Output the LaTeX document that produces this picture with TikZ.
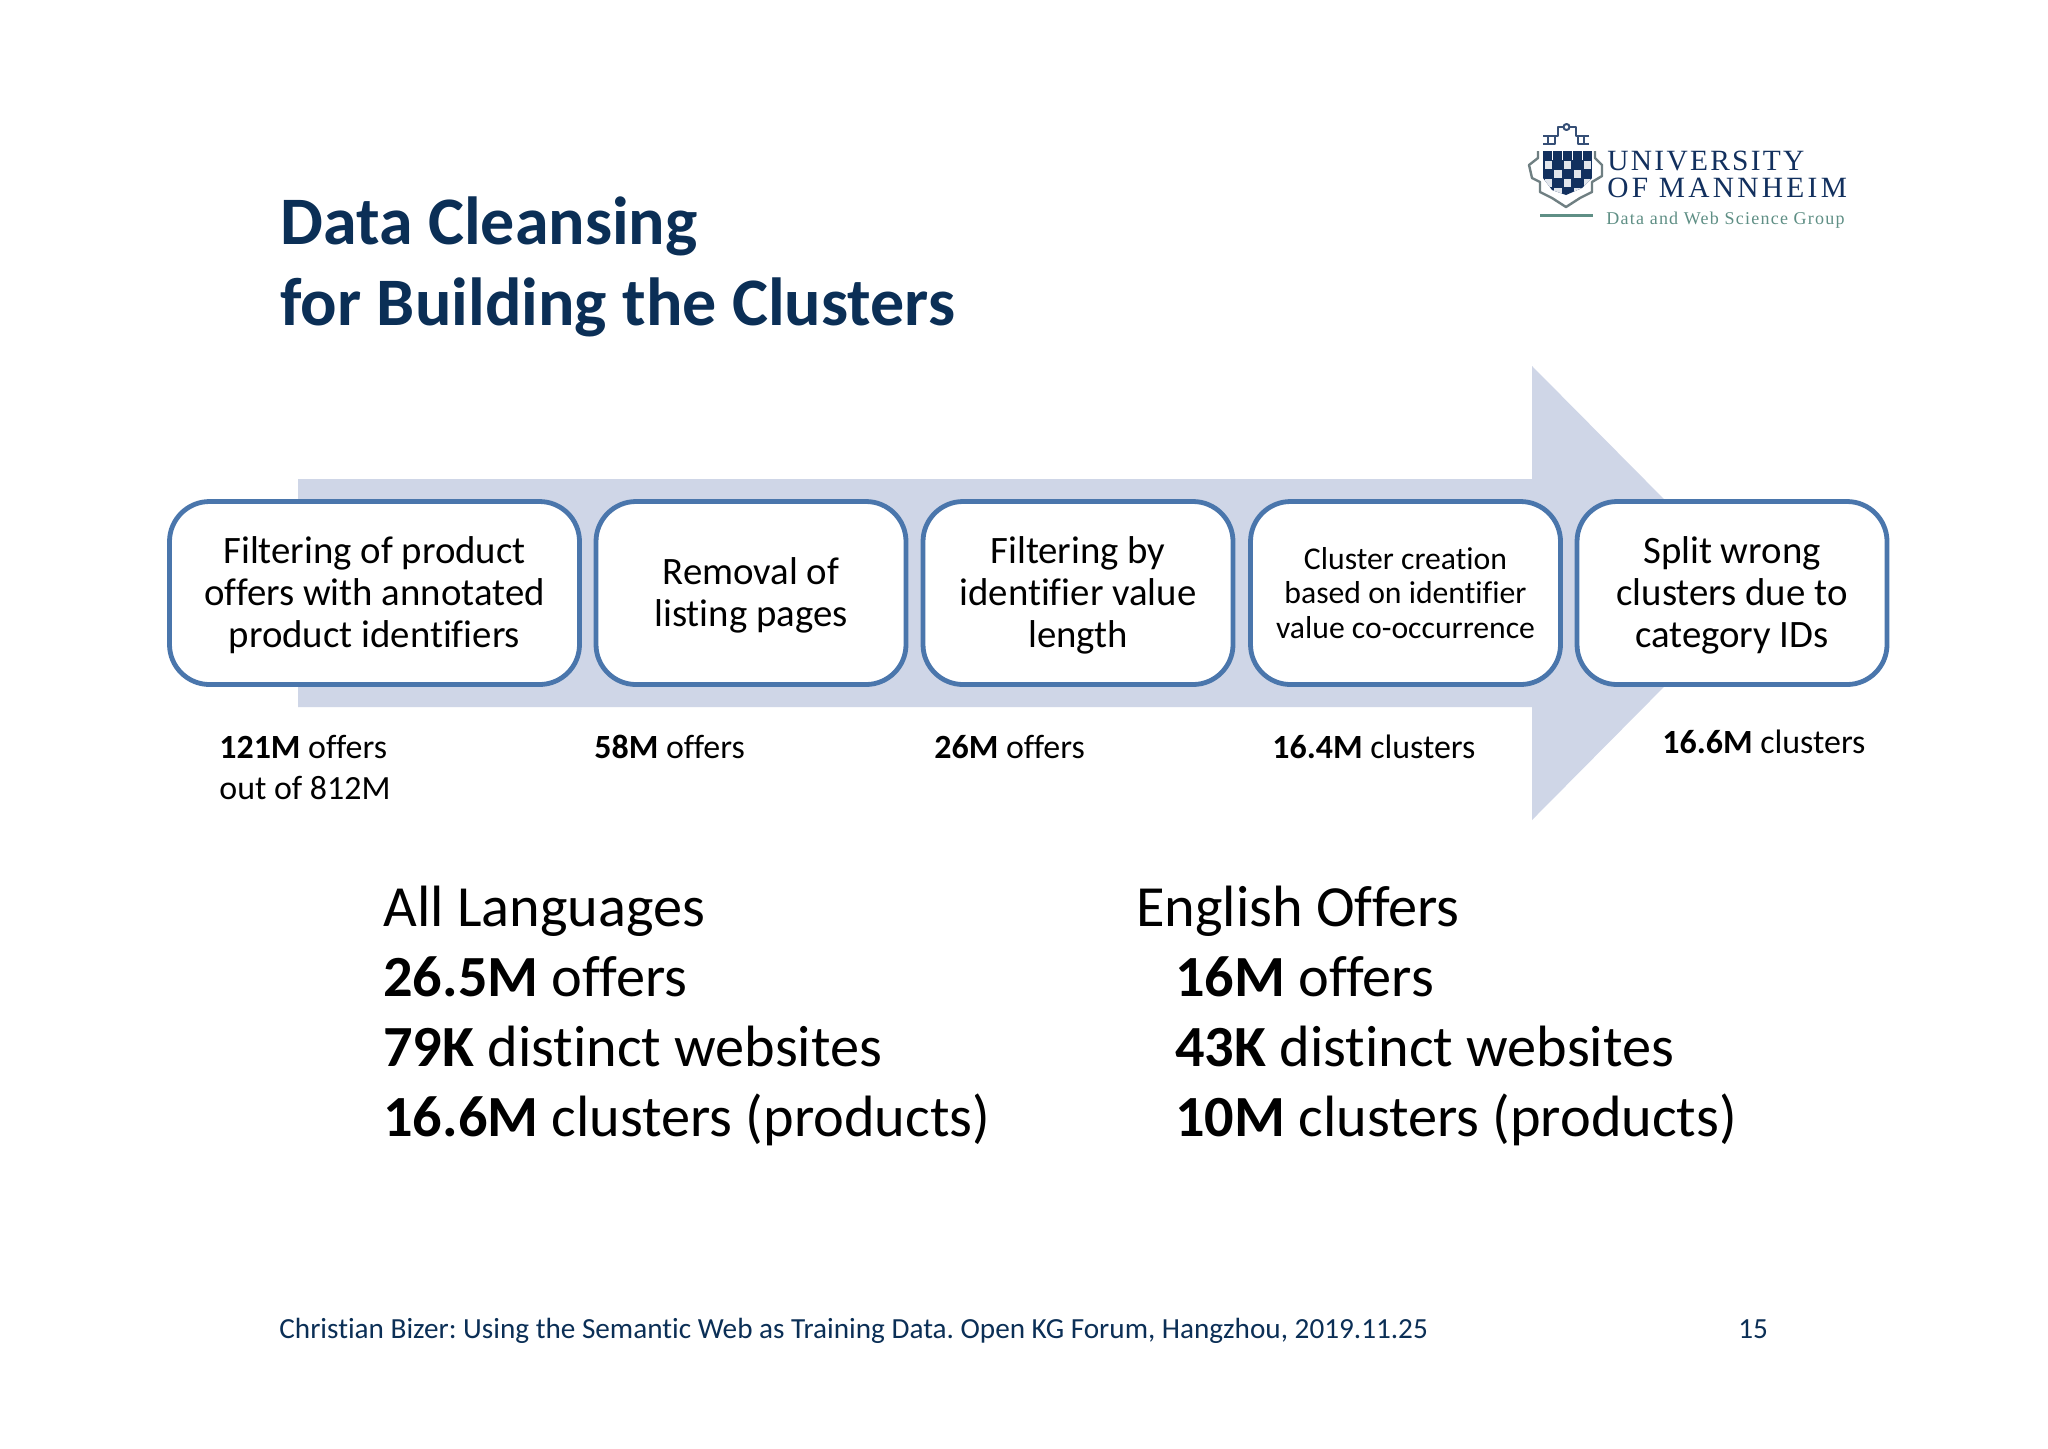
\documentclass[tikz,border=0pt]{standalone}
\usepackage{fontspec}
\setmainfont[Ligatures={NoCommon}]{Carlito}
\newfontfamily\logofonta[LetterSpace=7.8]{Liberation Serif}
\newfontfamily\logofontb[LetterSpace=11.2]{Liberation Serif}
\newfontfamily\logosub[LetterSpace=6.8]{Liberation Serif}
\definecolor{navy}{HTML}{0B2F56}
\definecolor{arrowfill}{HTML}{CFD6E7}
\definecolor{boxline}{HTML}{4A76AC}
\definecolor{shieldblue}{HTML}{12305E}
\definecolor{logoteal}{HTML}{5F8F85}
\definecolor{logogray}{HTML}{6F7F82}
\newcommand{\myfs}[2]{\fontsize{#1pt}{#2pt}\selectfont}
\newcommand{\lowerbig}{\rule{0pt}{18.5pt}}
\newcommand{\lowersmall}{\rule{0pt}{15.9pt}}
\tikzset{
  x=0.5pt,y=-0.5pt,
  procbox/.style={draw=boxline,line width=2.4pt,fill=white,rounded corners=20pt,inner sep=0pt,align=center,font=\frenchspacing\myfs{19.4}{21}},
  smallbox/.style={procbox,font=\frenchspacing\myfs{15.85}{17.3}},
  titletext/.style={anchor=base west,inner sep=0pt,text=navy,font=\myfs{34}{40}\bfseries},
  labeltext/.style={anchor=base west,inner sep=0pt,font=\myfs{16.95}{20}},
  bigtext/.style={anchor=base west,inner sep=0pt,font=\myfs{29.15}{34}},
  foottext/.style={anchor=base west,inner sep=0pt,text=navy,font=\frenchspacing\myfs{14.6}{16}},
  logotexta/.style={anchor=base west,inner sep=0pt,text=shieldblue,font=\logofonta\myfs{14.7}{17}},
  logotextb/.style={anchor=base west,inner sep=0pt,text=shieldblue,font=\logofontb\myfs{14.7}{17}},
  logosubtext/.style={anchor=base west,inner sep=0pt,text=logoteal,font=\logosub\myfs{9}{11}},
  logoline/.style={draw=logogray,line width=1.2pt,line join=round},
  crownline/.style={draw=shieldblue!85,line width=1pt,line join=round}
}
\begin{document}
\begin{tikzpicture}
\useasboundingbox (0,0) rectangle (2048,1448);
\fill[white] (0,0) rectangle (2048,1448);
% large arrow
\fill[arrowfill] (298,479) -- (1532,479) -- (1532,366) -- (1757,593) -- (1532,820) -- (1532,707) -- (298,707) -- cycle;
% boxes
\node[procbox,minimum width=205pt,minimum height=91.5pt] (b1) at (374.5,593) {\lowerbig Filtering of product\\\strut offers with annotated\\\strut product identifiers};
\node[procbox,minimum width=155pt,minimum height=91.5pt] (b2) at (751,593) {\lowerbig Removal of\\\strut listing pages};
\node[procbox,minimum width=155pt,minimum height=91.5pt] (b3) at (1078,593) {\lowerbig Filtering by\\\strut identifier value\\\strut length};
\node[smallbox,minimum width=155pt,minimum height=91.5pt] (b4) at (1405.5,593) {\lowersmall Cluster creation\\\strut based on identifier\\\strut value co-occurrence};
\node[procbox,minimum width=155pt,minimum height=91.5pt] (b5) at (1732,593) {\lowerbig Split wrong\\\strut clusters due to\\\strut category IDs};
% title
\node[titletext] (t1) at (280,244) {Data Cleansing};
\node[titletext] (t2) at (280,325) {for Building the Clusters};
% step labels
\node[labeltext] (l1) at (219,758) {\textbf{121M} offers};
\node[labeltext] (l1b) at (219,799) {out of 812M};
\node[labeltext] (l2) at (594,758) {\textbf{58M} offers};
\node[labeltext] (l3) at (934,758) {\textbf{26M} offers};
\node[labeltext] (l4) at (1272,758) {\textbf{16.4M} clusters};
\node[labeltext] (l5) at (1662,753) {\textbf{16.6M} clusters};
% summaries
\node[bigtext] (a0) at (383,926.5) {All Languages};
\node[bigtext] (a1) at (383,996.5) {\textbf{26.5M} offers};
\node[bigtext] (a2) at (383,1066.5) {\textbf{79K} distinct websites};
\node[bigtext] (a3) at (383,1136.5) {\textbf{16.6M} clusters (products)};
\node[bigtext] (e0) at (1136,926.5) {English Offers};
\node[bigtext] (e1) at (1175,996.5) {\textbf{16M} offers};
\node[bigtext] (e2) at (1175,1066.5) {\textbf{43K} distinct websites};
\node[bigtext] (e3) at (1175,1136.5) {\textbf{10M} clusters (products)};
% footer
\node[foottext] (f1) at (279,1338) {Christian Bizer: Using the Semantic Web as Training Data. Open KG Forum, Hangzhou, 2019.11.25};
\node[foottext] (f2) at (1738,1338) {15};
% logo text
\node[logotexta] (u1) at (1607,170) {UNIVERSITY};
\node[logotextb] (u2) at (1607,197) {OF MANNHEIM};
\node[logosubtext] (u3) at (1606,224) {Data and Web Science Group};
\fill[logoteal] (1540,213.5) rectangle (1593,217);
% logo shield
\begin{scope}
\clip (1543,151) -- (1592,151) -- (1592,178) -- (1582,188) -- (1566,195) -- (1552,190) -- (1543,178) -- cycle;
\fill[shieldblue] (1543,151) rectangle (1592,196);
\foreach \c/\r in {0/1,2/1,4/1,1/2,3/2,0/3,2/3,4/3,1/4,3/4}{
  \fill[white!88!shieldblue] ({1543+\c*9.8+1.5},{151+\r*9+1}) rectangle ({1543+(\c+1)*9.8-1},{151+(\r+1)*9-0.5});
}
\foreach \c in {1,2,3,4}{
  \fill[white] ({1543+\c*9.8-0.6},151) rectangle ({1543+\c*9.8+0.6},160);
}
\end{scope}
\draw[logoline] (1538,151) -- (1538,158) -- (1529,165) -- (1532,178) -- (1540,182) -- (1540,192) -- (1552,198) -- (1566,207) -- (1580,198) -- (1592,192) -- (1592,182) -- (1602,176) -- (1602,165) -- (1595,158) -- (1595,151);
\draw[crownline] (1543,136) -- (1558,136) -- (1558,127) -- (1563,127);
\draw[crownline] (1543,144) -- (1555,144) -- (1555,136);
\draw[crownline] (1548,136) -- (1548,144);
\draw[crownline] (1589,136) -- (1576,136) -- (1576,127) -- (1570,127);
\draw[crownline] (1589,144) -- (1578,144) -- (1578,136);
\draw[crownline] (1584,136) -- (1584,144);
\draw[crownline] (1566.5,127) circle (3);
\end{tikzpicture}
\end{document}
